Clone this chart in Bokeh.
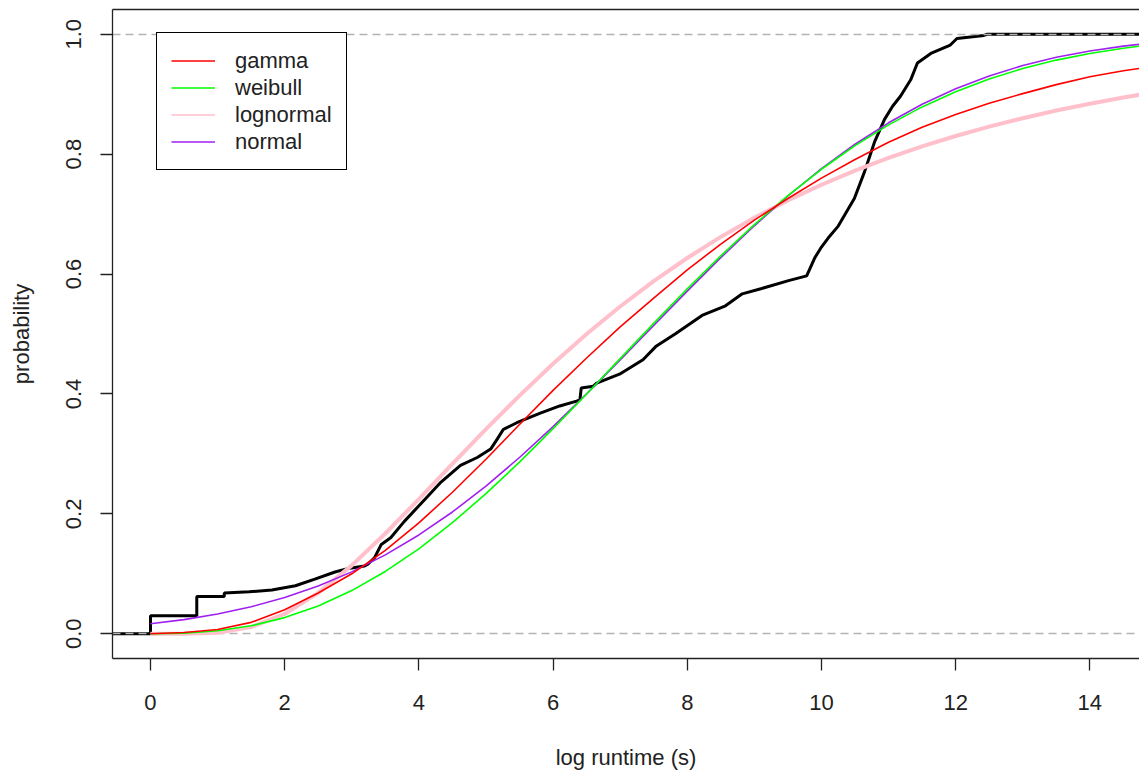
import math
from bokeh.plotting import figure
from bokeh.models import (Range1d, FixedTicker, PrintfTickFormatter,
                          Legend, LegendItem, LinearAxis)
from bokeh.embed import file_html
from bokeh.resources import INLINE

# ---------------- data ----------------
x_ticks = [0, 2, 4, 6, 8, 10, 12, 14]
y_ticks = [0.0, 0.2, 0.4, 0.6, 0.8, 1.0]
ref_lines = [0.0, 1.0]

ecdf_x = [-0.60, 0.00, 0.00, 0.69, 0.69, 1.10, 1.10, 1.47, 1.81, 2.16, 2.45,
          2.75, 2.95, 3.19, 3.24, 3.34, 3.44, 3.58, 3.78, 4.13, 4.33, 4.62,
          4.87, 5.07, 5.17, 5.26, 5.46, 5.81, 6.10, 6.35, 6.40, 6.42, 6.60,
          6.65, 6.99, 7.34, 7.53, 7.83, 8.22, 8.57, 8.82, 9.11, 9.51, 9.78,
          9.90, 10.00, 10.10, 10.25, 10.49, 10.64, 10.79, 10.94, 11.06, 11.18,
          11.33, 11.43, 11.63, 11.92, 12.02, 12.42, 12.47, 15.00]
ecdf_y = [0.0, 0.0, 0.030, 0.030, 0.062, 0.062, 0.068, 0.070, 0.073, 0.080,
          0.091, 0.103, 0.109, 0.113, 0.116, 0.127, 0.149, 0.160, 0.187, 0.229,
          0.253, 0.281, 0.294, 0.308, 0.325, 0.341, 0.352, 0.368, 0.380, 0.388,
          0.390, 0.410, 0.413, 0.418, 0.433, 0.457, 0.479, 0.501, 0.531, 0.547,
          0.567, 0.576, 0.589, 0.597, 0.627, 0.645, 0.660, 0.680, 0.726, 0.770,
          0.820, 0.858, 0.880, 0.897, 0.924, 0.952, 0.968, 0.982, 0.993, 0.998,
          1.000, 1.000]

fit_x = [0.0, 0.5, 1.0, 1.5, 2.0, 2.5, 3.0, 3.5, 4.0, 4.5, 5.0, 5.5, 6.0, 6.5,
         7.0, 7.5, 8.0, 8.5, 9.0, 9.5, 10.0, 10.5, 11.0, 11.5, 12.0, 12.5,
         13.0, 13.5, 14.0, 14.5, 14.74]
gamma_y = [0.000, 0.002, 0.007, 0.019, 0.040, 0.068, 0.100, 0.139, 0.185,
           0.236, 0.291, 0.349, 0.406, 0.460, 0.512, 0.560, 0.607, 0.650,
           0.690, 0.726, 0.760, 0.791, 0.820, 0.845, 0.866, 0.885, 0.901,
           0.916, 0.929, 0.939, 0.943]
weibull_y = [0.0, 0.0009, 0.0049, 0.0133, 0.0269, 0.0464, 0.0720, 0.1039,
             0.1417, 0.1852, 0.2337, 0.2863, 0.3421, 0.4000, 0.4590, 0.5177,
             0.5752, 0.6304, 0.6825, 0.7308, 0.7748, 0.8142, 0.8489, 0.8788,
             0.9042, 0.9254, 0.9429, 0.9569, 0.9680, 0.9766, 0.9800]
lognormal_y = [0.0, 0.0000, 0.0018, 0.0111, 0.0330, 0.0681, 0.1140, 0.1672,
               0.2245, 0.2832, 0.3412, 0.3972, 0.4503, 0.4999, 0.5459, 0.5882,
               0.6268, 0.6620, 0.6939, 0.7228, 0.7490, 0.7726, 0.7938, 0.8130,
               0.8303, 0.8459, 0.8600, 0.8727, 0.8841, 0.8945, 0.8990]
normal_y = [0.0166, 0.0235, 0.0328, 0.0449, 0.0603, 0.0796, 0.1032, 0.1315,
            0.1648, 0.2031, 0.2463, 0.2940, 0.3456, 0.4001, 0.4568, 0.5143,
            0.5715, 0.6273, 0.6805, 0.7302, 0.7757, 0.8165, 0.8523, 0.8832,
            0.9091, 0.9305, 0.9478, 0.9615, 0.9721, 0.9802, 0.9833]

legend_labels = ["gamma", "weibull", "lognormal", "normal"]
series = {"gamma": gamma_y, "weibull": weibull_y,
          "lognormal": lognormal_y, "normal": normal_y}
colors = {"gamma": "#FF0000", "weibull": "#00FF00",
          "lognormal": "#FFC0CB", "normal": "#A020F0"}

FONT = "Liberation Sans"
TXT = "#222222"

# ---------------- figure ----------------
p = figure(width=1139, height=772,
           x_range=Range1d(-0.566, 14.74), y_range=Range1d(-0.0413, 1.0413),
           output_backend="svg", toolbar_location=None,
           min_border_left=112, min_border_right=0, min_border_top=9,
           min_border_bottom=114)
p.outline_line_color = None
p.xgrid.visible = False
p.ygrid.visible = False
p.background_fill_color = "white"
p.border_fill_color = "white"

xa = p.below[0]
ya = p.left[0]

# ECDF
p.line(ecdf_x, ecdf_y, line_color="black", line_width=3)
# grey dashed reference lines at 0 and 1
p.hspan(y=ref_lines, line_color="#B3B3B3", line_width=1.5, line_dash="8 5")

# fitted curves (thin lines also serve as legend samples)
legend_renderers = {}
for lab in ["lognormal", "normal", "weibull", "gamma"]:
    legend_renderers[lab] = p.line(fit_x, series[lab], line_color=colors[lab],
                                   line_width=1.6)
    if lab == "lognormal":
        p.line(fit_x, series[lab], line_color=colors[lab], line_width=4)

# axes
for ax in (xa, ya):
    ax.axis_line_color = TXT
    ax.axis_line_width = 1.3
    ax.major_tick_line_color = TXT
    ax.major_tick_line_width = 1.3
    ax.major_tick_out = 12
    ax.major_tick_in = 0
    ax.minor_tick_line_color = None
    ax.major_label_text_font = FONT
    ax.major_label_text_font_size = "22px"
    ax.major_label_text_color = TXT
    ax.axis_label_text_font = FONT
    ax.axis_label_text_font_size = "22px"
    ax.axis_label_text_font_style = "normal"
    ax.axis_label_text_color = TXT

xa.ticker = FixedTicker(ticks=x_ticks)
xa.axis_label = "log runtime (s)"
xa.major_label_standoff = 24
xa.axis_label_standoff = 32

ya.ticker = FixedTicker(ticks=y_ticks)
ya.formatter = PrintfTickFormatter(format="%.1f")
ya.axis_label = "probability"
ya.major_label_orientation = "vertical"
ya.major_label_standoff = 19
ya.axis_label_standoff = 30

# top border of the box: an empty axis above the frame
top = LinearAxis(ticker=FixedTicker(ticks=[]), axis_line_color=TXT,
                 axis_line_width=1.3, major_tick_line_color=None,
                 minor_tick_line_color=None, major_label_text_font_size="0px",
                 major_tick_out=0, major_tick_in=0, major_label_standoff=0)
p.add_layout(top, "above")

items = [LegendItem(label=lab, renderers=[legend_renderers[lab]])
         for lab in legend_labels]
legend = Legend(items=items, location=(44, 488), orientation="vertical",
                padding=14, spacing=0, margin=0,
                glyph_width=44, glyph_height=27, label_height=27,
                label_standoff=20,
                label_text_font=FONT, label_text_font_size="22px",
                label_text_color=TXT,
                border_line_color="black", border_line_width=1.3,
                border_line_alpha=1.0,
                background_fill_color="white", background_fill_alpha=1.0)
p.add_layout(legend)

open("out.html", "w").write(file_html(p, INLINE))
